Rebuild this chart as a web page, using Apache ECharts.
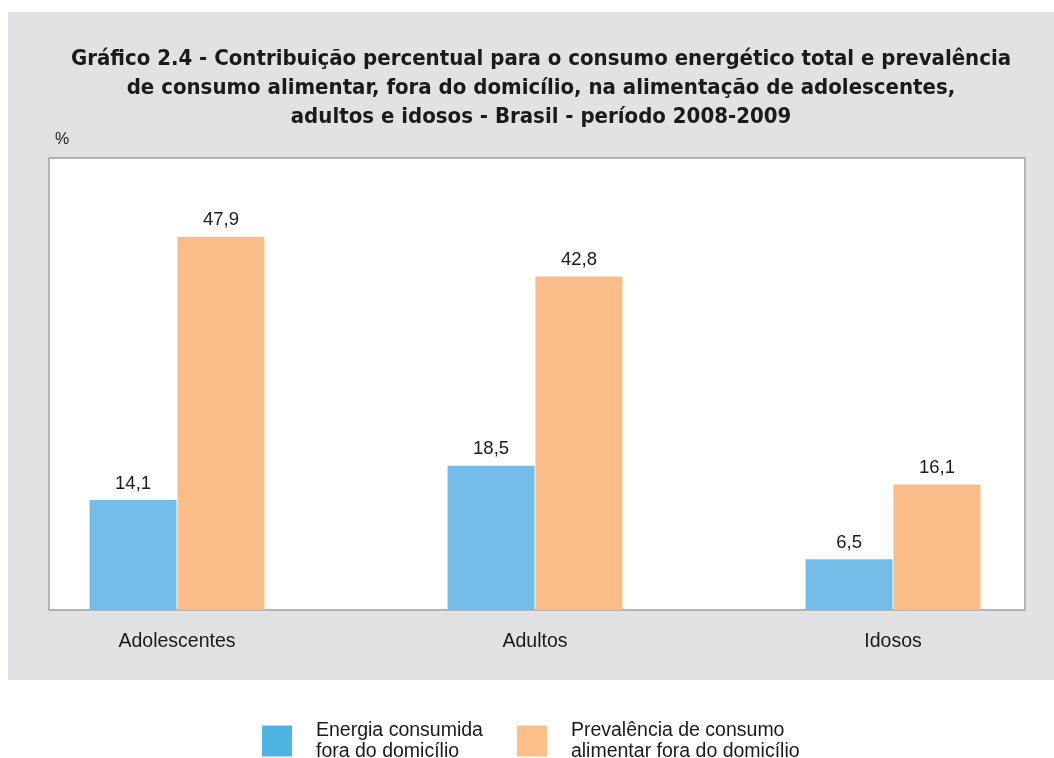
<!DOCTYPE html>
<html>
<head>
<meta charset="utf-8">
<script src="https://cdn.jsdelivr.net/npm/echarts@6/dist/echarts.min.js"></script>
<style>
  html, body { margin: 0; padding: 0; background: #ffffff; }
  #chart { width: 1054px; height: 758px; }
</style>
</head>
<body>
<div id="chart"></div>
<script>
// Age groups on the x axis
const categories = ['Adolescentes', 'Adultos', 'Idosos'];
// Share of total energy consumed away from home (%)
const energiaFora = [14.1, 18.5, 6.5];
// Prevalence of eating away from home (%)
const prevalenciaFora = [47.9, 42.8, 16.1];
// Series names, as shown in the legend
const seriesNames = ['Energia consumida fora do domicílio', 'Prevalência de consumo alimentar fora do domicílio'];
const legendLines = {
  'Energia consumida fora do domicílio': 'Energia consumida\nfora do domicílio',
  'Prevalência de consumo alimentar fora do domicílio': 'Prevalência de consumo\nalimentar fora do domicílio'
};

const fmt = v => String(v).replace('.', ',');
const font = '"Liberation Sans", Arial, sans-serif';

const chart = echarts.init(document.getElementById('chart'), null, { renderer: 'canvas' });

const labelStyle = {
  show: true,
  position: 'top',
  distance: 7,
  color: '#1a1a1a',
  fontSize: 18.5,
  fontFamily: font,
  formatter: p => fmt(p.value)
};

chart.setOption({
  animation: false,
  backgroundColor: '#ffffff',
  title: {
    text: 'Gráfico 2.4 - Contribuição percentual para o consumo energético total e prevalência\nde consumo alimentar, fora do domicílio, na alimentação de adolescentes,\nadultos e idosos - Brasil - período 2008-2009',
    left: 536,
    textAlign: 'center',
    top: 40,
    textStyle: {
      fontFamily: '"DejaVu Sans Condensed", "Liberation Sans Narrow", sans-serif',
      fontWeight: 'bold',
      fontSize: 22,
      lineHeight: 29,
      color: '#1a1a1a'
    }
  },
  graphic: [
    {
      type: 'rect', z: -10, silent: true,
      shape: { x: 8, y: 12, width: 1046, height: 668 },
      style: { fill: '#e2e2e4' }
    },
    {
      type: 'rect', z: -9, silent: true,
      shape: { x: 49, y: 158, width: 976, height: 452 },
      style: { fill: '#ffffff', stroke: '#b3b4b8', lineWidth: 2 }
    },
    {
      type: 'text', z: 5, silent: true,
      left: 55, top: 132,
      style: { text: '%', fontSize: 16, fontFamily: font, fill: '#1a1a1a' }
    }
  ],
  legend: {
    left: 257,
    top: 715,
    itemWidth: 30,
    itemHeight: 31,
    itemGap: 34,
    icon: 'rect',
    selectedMode: false,
    data: [
      { name: seriesNames[0], itemStyle: { color: '#4fb3e3' } },
      { name: seriesNames[1], itemStyle: { color: '#fbbf87' } }
    ],
    formatter: name => legendLines[name],
    textStyle: {
      fontFamily: font,
      fontSize: 19.5,
      lineHeight: 21,
      color: '#1a1a1a',
      padding: [0, 0, 0, 19]
    }
  },
  grid: {
    left: -2,
    top: 158,
    width: 1074,
    bottom: 148,
    outerBoundsMode: 'none'
  },
  xAxis: {
    type: 'category',
    data: categories,
    axisLine: { show: false },
    axisTick: { show: false },
    axisLabel: {
      margin: 22,
      fontFamily: font,
      fontSize: 19.5,
      color: '#1a1a1a'
    }
  },
  yAxis: {
    type: 'value',
    min: 0,
    max: 58,
    show: false,
    splitLine: { show: false }
  },
  series: [
    {
      name: seriesNames[0],
      type: 'bar',
      data: energiaFora,
      barWidth: 87,
      barGap: '1%',
      itemStyle: { color: '#74bde8' },
      label: labelStyle
    },
    {
      name: seriesNames[1],
      type: 'bar',
      data: prevalenciaFora,
      barWidth: 87,
      barGap: '1%',
      itemStyle: { color: '#fabd88' },
      label: labelStyle
    }
  ]
});
</script>
</body>
</html>
